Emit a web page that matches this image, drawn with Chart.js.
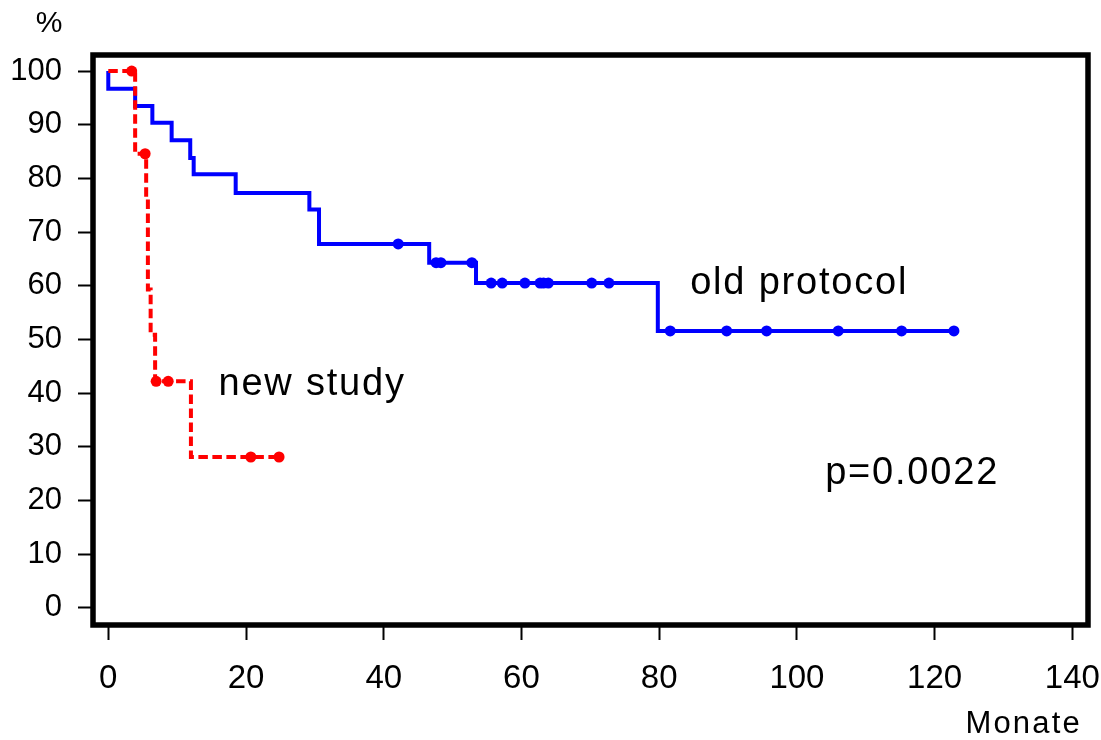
<!DOCTYPE html>
<html>
<head>
<meta charset="utf-8">
<script src="https://cdn.jsdelivr.net/npm/chart.js@4/dist/chart.umd.min.js"></script>
<style>
    html, body { margin: 0; padding: 0; background: #fff; overflow: hidden; }
    #wrap { width: 1101px; height: 740px; }
</style>
</head>
<body>
<div id="wrap"><canvas id="chart"></canvas></div>
<script>
// old protocol: step points (time in months, survival in %)
const oldTimes = [0, 0, 3.9, 6.4, 9.2, 11.9, 12.4, 18.5, 29.2, 30.6, 46.6, 53.4, 79.8, 122.8];
const oldSurv = [100, 96.7, 93.5, 90.4, 87.1, 83.8, 80.8, 77.3, 74.2, 67.8, 64.3, 60.5, 51.6, 51.6];
const oldCensorTimes = [42.1, 47.6, 48.3, 52.8, 55.6, 57.2, 60.5, 62.7, 63.2, 63.9, 70.2, 72.7, 81.6, 89.8, 95.6, 106.0, 115.2, 122.8];
const oldCensorSurv = [67.8, 64.3, 64.3, 64.3, 60.5, 60.5, 60.5, 60.5, 60.5, 60.5, 60.5, 60.5, 51.6, 51.6, 51.6, 51.6, 51.6, 51.6];

// new study
const newTimes = [0, 3.9, 5.5, 5.75, 6.15, 6.8, 12.0, 24.8];
const newSurv = [100, 84.6, 76.1, 59.3, 50.9, 42.2, 28.1, 28.1];
const newCensorTimes = [3.4, 5.35, 6.95, 8.7, 20.7, 24.8];
const newCensorSurv = [100, 84.6, 42.2, 42.2, 28.1, 28.1];

const xTicks = [0, 20, 40, 60, 80, 100, 120, 140];
const yTicks = [0, 10, 20, 30, 40, 50, 60, 70, 80, 90, 100];

const labels = [
    { text: "old protocol", x: 84.5, y: 58.4 },
    { text: "new study", x: 16.0, y: 39.6 },
    { text: "p=0.0022", x: 104.1, y: 23.0 },
];

const BLUE = "#0000ff";
const RED = "#ff0000";
const SANS = "'Liberation Sans', Arial, sans-serif";

function toPoints(xs, ys) {
    return xs.map((x, i) => ({ x: x, y: ys[i] }));
}

const frame = {
    id: "frame",
    afterDatasetsDraw(chart) {
        const { ctx, chartArea: a, scales } = chart;
        ctx.save();
        ctx.strokeStyle = "#000";
        ctx.lineWidth = 5.5;
        ctx.strokeRect(a.left, a.top, a.right - a.left, a.bottom - a.top);

        ctx.fillStyle = "#000";
        ctx.textBaseline = "alphabetic";
        ctx.textAlign = "left";
        ctx.font = "38px " + SANS;
        ctx.letterSpacing = "1.8px";
        labels.forEach(l => {
            ctx.fillText(l.text, scales.x.getPixelForValue(l.x), scales.y.getPixelForValue(l.y));
        });

        ctx.font = "30px " + SANS;
        ctx.letterSpacing = "0px";
        ctx.textAlign = "center";
        ctx.fillText("%", 49, 32);

        ctx.font = "31px " + SANS;
        ctx.letterSpacing = "2.2px";
        ctx.textAlign = "right";
        ctx.fillText("Monate", 1082, 733);
        ctx.restore();
    },
};

new Chart("chart", {
    type: "scatter",
    data: {
        datasets: [
            {
                label: "new study",
                data: toPoints(newTimes, newSurv),
                showLine: true,
                stepped: true,
                borderColor: RED,
                borderWidth: 4,
                borderDash: [9.5, 4.5],
                pointRadius: 0,
                fill: false,
            },
            {
                label: "new study censored",
                data: toPoints(newCensorTimes, newCensorSurv),
                pointRadius: 5.5,
                pointBorderWidth: 0,
                backgroundColor: RED,
            },
            {
                label: "old protocol",
                data: toPoints(oldTimes, oldSurv),
                showLine: true,
                stepped: true,
                borderColor: BLUE,
                borderWidth: 4,
                pointRadius: 0,
                fill: false,
            },
            {
                label: "old protocol censored",
                data: toPoints(oldCensorTimes, oldCensorSurv),
                pointRadius: 5.5,
                pointBorderWidth: 0,
                backgroundColor: BLUE,
            },
        ],
    },
    options: {
        responsive: true,
        maintainAspectRatio: false,
        animation: false,
        layout: {
            padding: { left: 0, right: 13, top: 55, bottom: 0 },
        },
        plugins: {
            legend: { display: false },
            tooltip: { enabled: false },
        },
        scales: {
            x: {
                type: "linear",
                min: -2.22,
                max: 142.27,
                afterFit: s => {
                    s.height = 115;
                    s.paddingLeft = 0;
                    s.paddingRight = 0;
                },
                afterBuildTicks: s => { s.ticks = xTicks.map(v => ({ value: v })); },
                border: { display: false },
                grid: {
                    drawOnChartArea: false,
                    drawTicks: true,
                    tickLength: 15,
                    tickWidth: 2,
                    tickColor: "#000",
                },
                ticks: {
                    color: "#000",
                    padding: 19,
                    maxRotation: 0,
                    font: { family: SANS, size: 33 },
                },
            },
            y: {
                type: "linear",
                min: -3.2,
                max: 103.0,
                afterFit: s => {
                    s.width = 93;
                    s.paddingTop = 0;
                    s.paddingBottom = 0;
                },
                afterBuildTicks: s => { s.ticks = yTicks.map(v => ({ value: v })); },
                border: { display: false },
                grid: {
                    drawOnChartArea: false,
                    drawTicks: true,
                    tickLength: 15,
                    tickWidth: 2,
                    tickColor: "#000",
                },
                ticks: {
                    color: "#000",
                    padding: 16,
                    font: { family: SANS, size: 31 },
                },
            },
        },
    },
    plugins: [frame],
});
</script>
</body>
</html>
